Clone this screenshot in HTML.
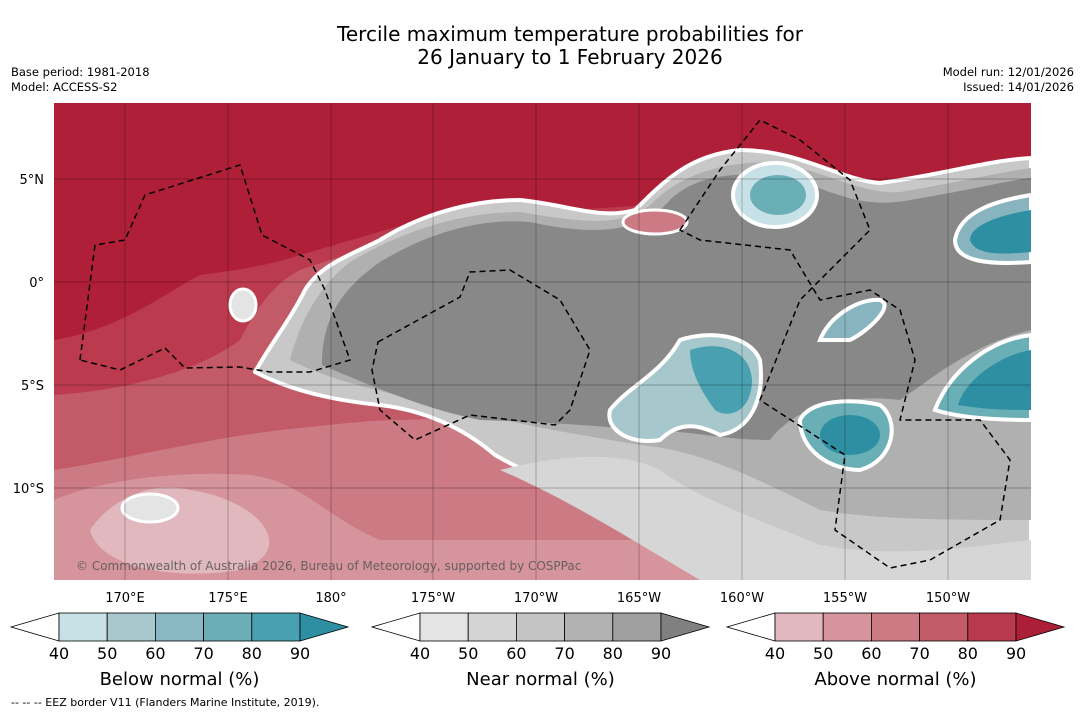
<!DOCTYPE html>
<html><head><meta charset="utf-8">
<style>
body{margin:0;background:#fff;width:1085px;height:713px;overflow:hidden;font-family:"DejaVu Sans","Liberation Sans",sans-serif;}
svg{position:absolute;left:0;top:0;}
</style></head>
<body>
<svg width="1085" height="713" viewBox="0 0 1085 713">
<text x="570" y="41" text-anchor="middle" font-size="20">Tercile maximum temperature probabilities for</text>
<text x="570" y="64" text-anchor="middle" font-size="20">26 January to 1 February 2026</text>
<text x="11" y="76" font-size="11.5">Base period: 1981-2018</text>
<text x="11" y="91" font-size="11.5">Model: ACCESS-S2</text>
<text x="1074" y="76" font-size="11.5" text-anchor="end">Model run: 12/01/2026</text>
<text x="1074" y="91" font-size="11.5" text-anchor="end">Issued: 14/01/2026</text>
<defs><clipPath id="mc"><rect x="54" y="103" width="977" height="477"/></clipPath></defs>
<g clip-path="url(#mc)">
<rect x="54" y="103" width="977" height="477" fill="#b01f38"/>
<path fill="#bb3a4e" d="M54,340 C120,330 170,290 200,275 C240,270 270,265 300,255 L420,220 L1031,180 L1031,580 L54,580 Z"/>
<path fill="#c35a68" d="M54,395 C130,390 200,370 240,340 C260,300 280,280 300,270 L420,230 L1031,190 L1031,580 L54,580 Z"/>
<path fill="#cc7a83" d="M54,470 C120,460 200,440 280,430 C330,425 370,420 400,420 L1031,400 L1031,580 L54,580 Z"/>
<path fill="#d6959d" d="M54,500 C100,480 180,470 250,475 C300,480 330,520 380,540 L1031,540 L1031,580 L54,580 Z"/>
<path fill="#e0b8be" d="M90,530 C110,500 150,480 190,490 C260,500 300,550 240,570 C180,580 100,570 90,530 Z"/>
<path fill="#c8c8c8" stroke="#fff" stroke-width="4" stroke-linejoin="round" d="M255,372 C270,345 290,320 305,290 C320,265 350,255 380,240 C420,215 470,200 520,200 C570,205 600,220 635,210 C665,180 690,155 740,150 C800,150 840,180 880,183 C940,175 990,160 1031,158 L1031,580 L735,580 C690,560 660,540 630,520 C580,495 530,475 495,455 C460,425 420,410 380,405 C330,400 290,390 255,372 Z"/>
<path fill="#b0b0b0" d="M290,360 C300,320 320,285 350,262 C400,232 460,212 520,212 C580,222 620,228 650,205 C680,175 720,162 770,162 C820,168 860,195 900,192 C960,182 1000,172 1031,168 L1031,520 C950,520 880,520 820,510 C760,480 700,450 640,445 C580,435 520,425 460,410 C400,395 340,385 290,360 Z"/>
<path fill="#888888" d="M322,365 C322,320 340,290 380,262 C430,232 480,218 530,222 C590,235 640,235 670,200 C700,172 740,172 790,178 C830,190 860,210 910,200 C970,190 1010,180 1031,178 L1031,330 C970,345 930,380 900,400 C860,395 800,400 770,440 C720,440 690,430 640,430 C590,425 540,422 480,420 C430,410 380,390 322,365 Z"/>
<path fill="#d6d6d6" d="M500,470 C560,455 620,450 660,470 C700,500 760,520 820,545 C900,560 980,545 1031,540 L1031,580 L700,580 C640,545 570,500 500,470 Z"/>
<ellipse cx="655" cy="222" rx="32" ry="12" fill="#cc7a83" stroke="#fff" stroke-width="3"/>
<ellipse cx="775" cy="195" rx="42" ry="32" fill="#c8e1e7" stroke="#fff" stroke-width="4"/>
<ellipse cx="778" cy="195" rx="28" ry="20" fill="#6aaeb6"/>
<path fill="#88b4bf" stroke="#fff" stroke-width="4" d="M1031,195 C1000,200 960,210 955,240 C955,262 990,265 1031,262 Z"/>
<path fill="#2e8fa3" d="M1031,210 C1000,215 970,225 970,240 C975,255 1000,255 1031,252 Z"/>
<path fill="#88b4bf" stroke="#fff" stroke-width="4" d="M820,340 C830,315 860,298 880,300 C895,305 870,330 850,340 Z"/>
<path fill="#a6c7cb" stroke="#fff" stroke-width="4" d="M610,410 C630,385 660,375 680,340 C710,330 750,335 760,360 C765,400 750,430 720,435 C700,425 680,420 660,440 C630,445 605,430 610,410 Z"/>
<path fill="#48a0b0" d="M690,350 C720,340 750,350 752,380 C752,410 730,420 715,410 C700,390 690,370 690,350 Z"/>
<path fill="#6aaeb6" stroke="#fff" stroke-width="4" d="M800,420 C810,400 850,398 880,405 C900,420 895,460 860,470 C830,470 800,450 800,420 Z"/>
<ellipse cx="850" cy="435" rx="30" ry="20" fill="#2e8fa3"/>
<path fill="#6aaeb6" stroke="#fff" stroke-width="4" d="M1031,335 C990,340 950,370 935,410 C960,418 1000,420 1031,420 Z"/>
<path fill="#2e8fa3" d="M1031,350 C1000,355 965,380 958,405 C990,410 1010,410 1031,410 Z"/>
<ellipse cx="243" cy="305" rx="13" ry="16" fill="#e4e4e4" stroke="#fff" stroke-width="3"/>
<ellipse cx="150" cy="508" rx="28" ry="14" fill="#e4e4e4" stroke="#fff" stroke-width="3"/>
<g stroke="#000" stroke-width="1.5" fill="none" stroke-dasharray="6,4">
<path d="M80,360 L95,245 L125,240 L145,195 L240,165 L262,235 L310,260 L325,290 L350,360 L310,372 L270,372 L240,367 L185,368 L165,348 L120,370 L80,360 Z"/>
<path d="M378,342 L460,297 L470,272 L510,270 L560,300 L590,350 L570,410 L555,425 L470,415 L415,440 L380,410 L372,370 Z"/>
<path d="M680,230 L720,170 L760,120 L800,140 L850,180 L870,230 L800,300 L760,400 L845,455 L835,530 L890,568 L930,560 L1000,520 L1010,460 L980,420 L900,420 L915,360 L900,310 L870,290 L820,300 L790,250 L700,240 Z"/>
</g>
<g stroke="#000" stroke-opacity="0.35" stroke-width="0.7">
<line x1="125" y1="103" x2="125" y2="580"/><line x1="228" y1="103" x2="228" y2="580"/><line x1="331" y1="103" x2="331" y2="580"/>
<line x1="433" y1="103" x2="433" y2="580"/><line x1="536" y1="103" x2="536" y2="580"/><line x1="639" y1="103" x2="639" y2="580"/>
<line x1="742" y1="103" x2="742" y2="580"/><line x1="845" y1="103" x2="845" y2="580"/><line x1="948" y1="103" x2="948" y2="580"/>
<line x1="54" y1="179" x2="1031" y2="179"/><line x1="54" y1="282" x2="1031" y2="282"/><line x1="54" y1="385" x2="1031" y2="385"/><line x1="54" y1="488" x2="1031" y2="488"/>
</g>
<text x="76" y="570" font-size="12" fill="#555" fill-opacity="0.85">© Commonwealth of Australia 2026, Bureau of Meteorology, supported by COSPPac</text>
</g>
<g font-size="13" text-anchor="middle">
<text x="125" y="602">170°E</text><text x="228" y="602">175°E</text><text x="331" y="602">180°</text><text x="433" y="602">175°W</text><text x="536" y="602">170°W</text><text x="639" y="602">165°W</text><text x="742" y="602">160°W</text><text x="845" y="602">155°W</text><text x="948" y="602">150°W</text>
</g>
<g font-size="13" text-anchor="end">
<text x="44" y="184">5°N</text><text x="44" y="287">0°</text><text x="44" y="390">5°S</text><text x="44" y="493">10°S</text>
</g>
<g id="cbars"></g>
<text x="11" y="706" font-size="11">--  --  -- EEZ border V11 (Flanders Marine Institute, 2019).</text>
</svg>
<script>
const levels=[40,50,60,70,80,90];
const belowColors=["#c8e1e7","#a7c8cc","#8ab8c2","#6baeb7","#48a0b0","#2e8fa3"];
const nearColors=["#e4e4e4","#d4d4d4","#c4c4c4","#b2b2b2","#a0a0a0","#808080"];
const aboveColors=["#e0b8be","#d6959d","#cc7a83","#c35a68","#b93a4d","#ad1f36"];
const barTitles=["Below normal (%)","Near normal (%)","Above normal (%)"];
const barStarts=[59,420,775];
const NS="http://www.w3.org/2000/svg";
const g=document.getElementById('cbars');
function mk(t,a){const e=document.createElementNS(NS,t);for(const k in a)e.setAttribute(k,a[k]);g.appendChild(e);return e;}
[belowColors,nearColors,aboveColors].forEach((cols,bi)=>{
  const x0=barStarts[bi],w=48.2,y0=613,h=28;
  const lt=mk('polygon',{points:`${x0},${y0} ${x0},${y0+h} ${x0-48},${y0+h/2}`,fill:'#fff',stroke:'#000','stroke-width':0.8});
  
  
  for(let i=0;i<levels.length-1;i++){
    const r=mk('rect',{x:x0+i*w,y:y0,width:w,height:h,fill:cols[i],stroke:'#000','stroke-width':0.8});
    
    
  }
  const xe=x0+(levels.length-1)*w;
  const rt=mk('polygon',{points:`${xe},${y0} ${xe},${y0+h} ${xe+48},${y0+h/2}`,fill:cols[5],stroke:'#000','stroke-width':0.8});
  
  
  levels.forEach((v,i)=>{
    const t=mk('text',{x:x0+i*w,y:659,'font-size':16,'text-anchor':'middle'});t.textContent=v;
    
    
  });
  const tt=mk('text',{x:x0+2.5*w,y:685,'font-size':18,'text-anchor':'middle'});tt.textContent=barTitles[bi];
  
  
});
</script>
</body></html>
